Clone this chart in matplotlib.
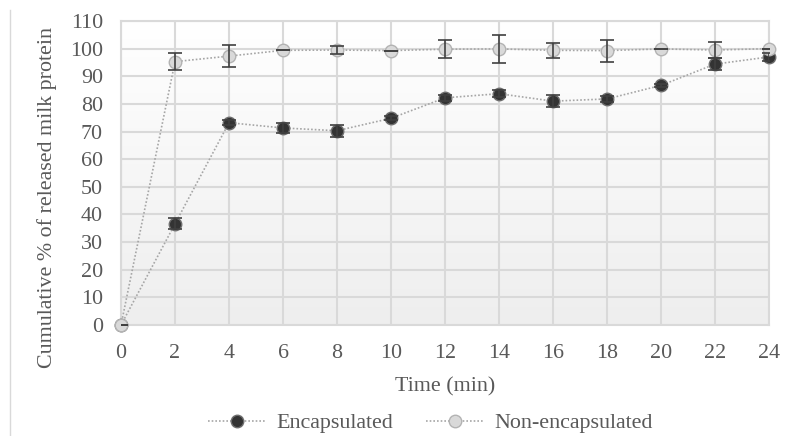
import matplotlib.pyplot as plt
import matplotlib as mpl
import numpy as np

time = [0, 2, 4, 6, 8, 10, 12, 14, 16, 18, 20, 22, 24]
encap = [0, 36.6, 73.2, 71.3, 70.3, 74.8, 82.2, 83.7, 81.0, 81.8, 86.7, 94.4, 97.0]
encap_err = [0, 2.0, 1.0, 1.8, 2.2, 0.8, 1.0, 1.2, 2.2, 1.0, 0.5, 2.3, 1.5]
nonenc = [0, 95.3, 97.3, 99.4, 99.5, 99.3, 99.8, 99.9, 99.4, 99.3, 99.9, 99.5, 100.0]
nonenc_err = [0, 3.0, 4.0, 0.0, 1.6, 0.0, 3.3, 5.0, 2.7, 4.0, 0.0, 2.9, 0.0]

plt.rcParams['font.family'] = ['Liberation Serif', 'DejaVu Serif']
plt.rcParams['font.size'] = 15.8
txt = '#595959'

fig = plt.figure(figsize=(7.94, 4.36), dpi=100)
ax = fig.add_axes([0.1524, 0.2546, 0.8161, 0.6972])

# light gradient background
grad = np.linspace(0, 1, 256).reshape(-1, 1)
cm = mpl.colors.LinearSegmentedColormap.from_list('bg', ['#ffffff', '#eeeeee'])
ax.imshow(grad, cmap=cm, aspect='auto', extent=[0, 24, 0, 110], origin='upper', zorder=0)

ax.set_xlim(0, 24)
ax.set_ylim(0, 110)
ax.set_xticks(time)
ax.set_yticks(range(0, 111, 10))
ax.grid(True, color='#d9d9d9', linewidth=1.5, zorder=1)
for s in ax.spines.values():
    s.set_color('#d9d9d9')
    s.set_linewidth(1.5)
ax.tick_params(length=0, colors=txt)
ax.tick_params(axis='y', pad=13)
ax.tick_params(axis='x', pad=14)

line_kw = dict(linestyle=(0, (1, 1.2)), linewidth=1.2, color='#a6a6a6', zorder=3)
ax.errorbar(time, encap, yerr=encap_err, fmt='none', ecolor='#404040', elinewidth=1.2,
            capsize=5, capthick=1.2, zorder=4)
ax.errorbar(time, nonenc, yerr=nonenc_err, fmt='none', ecolor='#404040', elinewidth=1.2,
            capsize=5, capthick=1.2, zorder=4)
ax.plot(time, encap, marker='o', markersize=9, markerfacecolor='#333333',
        markeredgecolor='#6e6e6e', markeredgewidth=1, label='Encapsulated', clip_on=False, **line_kw)
ax.plot(time, nonenc, marker='o', markersize=9, markerfacecolor='#d9d9d9',
        markeredgecolor='#b3b3b3', markeredgewidth=1, label='Non-encapsulated', clip_on=False, **line_kw)

ax.set_xlabel('Time (min)', color=txt, labelpad=10)
ax.set_ylabel('Cumulative % of released milk protein', color=txt)
ax.yaxis.set_label_coords(-0.0988, 0.418)

leg = fig.legend(loc='center', bbox_to_anchor=(0.542, 1 - 423 / 436), ncol=2, frameon=False,
                 handlelength=2.6, columnspacing=1.5, handletextpad=0.5)
for t in leg.get_texts():
    t.set_color(txt)

# faint frame line on the left edge
fig.add_artist(plt.Line2D([10 / 794, 10 / 794], [0, 1 - 10 / 436], color='#d9d9d9', linewidth=1))

fig.savefig('out.png', dpi=100)
